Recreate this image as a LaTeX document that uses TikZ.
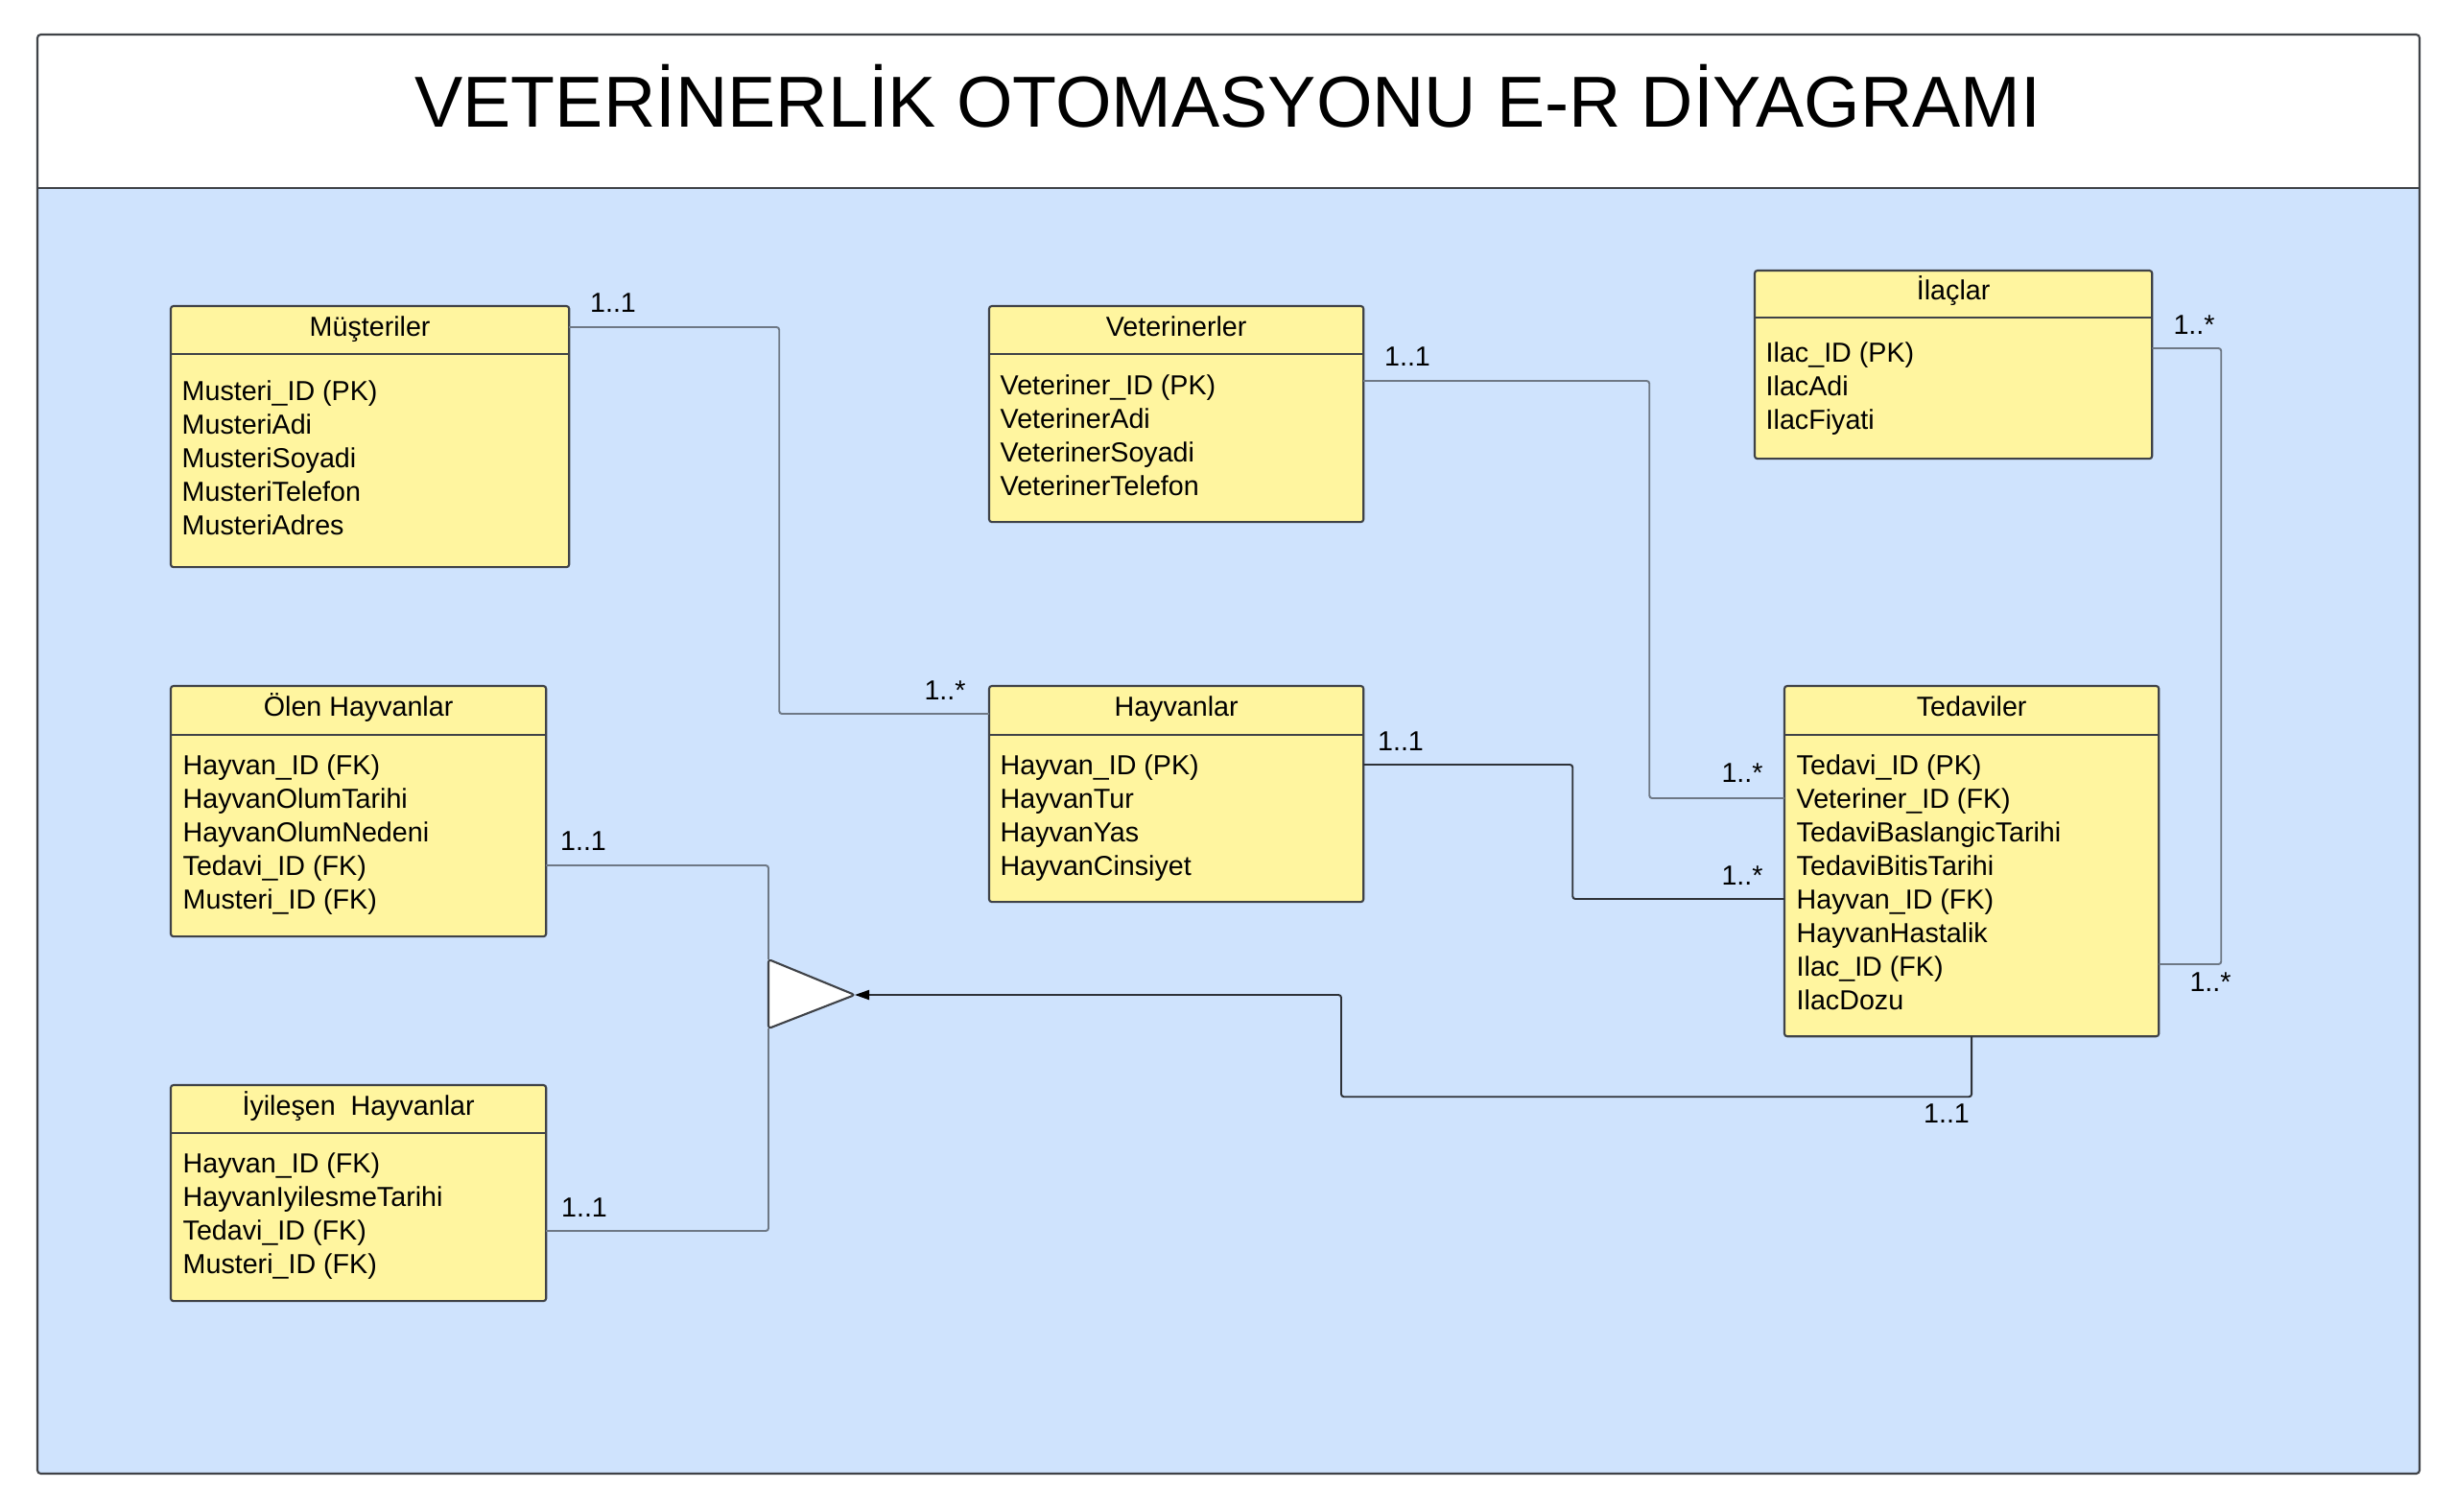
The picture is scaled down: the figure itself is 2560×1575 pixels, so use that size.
\documentclass[tikz,border=0pt]{standalone}
\usepackage{fontspec}
\setmainfont{Liberation Sans}
\usetikzlibrary{calc,arrows.meta}
\definecolor{bgblue}{HTML}{CFE3FD}
\definecolor{boxyellow}{HTML}{FFF59F}
\definecolor{edgec}{HTML}{3F4247}
\definecolor{connc}{HTML}{6E7885}
\definecolor{conndark}{HTML}{2E3238}
\begin{document}
\begin{tikzpicture}[x=0.01cm,y=-0.01cm,
  entity/.style={draw=edgec, line width=0.6pt, fill=boxyellow, rounded corners=0.8pt, inner sep=0, outer sep=0, anchor=north west},
  hdrline/.style={draw=edgec, line width=0.6pt},
  ttl/.style={font=\fontsize{8.15}{10}\selectfont, anchor=base, inner sep=0},
  attr/.style={font=\fontsize{8.15}{10}\selectfont, anchor=base west, inner sep=0},
  card/.style={font=\fontsize{8.15}{10}\selectfont, anchor=base, inner sep=0},
  conn/.style={draw=connc, line width=0.55pt, rounded corners=0.8pt},
  arrowtip/.style={-{Triangle[length=0.15cm,width=0.1cm,color=black]}},
]
\useasboundingbox (0,0) rectangle (2560,1575);
\fill[white] (0,0) rectangle (2560,1575);
% frame
\fill[bgblue] (39,196) rectangle (2522,1536);
\fill[white] (39,36) rectangle (2522,196);
\draw[edgec, line width=0.6pt] (39,196) -- (2522,196);
\draw[edgec, line width=0.6pt, rounded corners=1pt] (39,36) rectangle (2522,1536);
\node[font=\fontsize{21.4}{25}\selectfont, anchor=base, inner sep=0] (title) at (1280,132) {VETERİNERLİK OTOMASYONU E-R DİYAGRAMI};

% Müşteriler
\node[entity, minimum width=4.15cm, minimum height=2.72cm] (mus) at (178,319) {};
\draw[hdrline] ($(mus.north west)+(0,50)$) -- ($(mus.north east)+(0,50)$);
\node[ttl] (mus-t) at ($(mus.north)+(0,31)$) {Müşteriler};
\foreach \txt [count=\i from 0] in {Musteri\_ID (PK),MusteriAdi,MusteriSoyadi,MusteriTelefon,MusteriAdres}
  \node[attr] (mus-\i) at ($(mus.north west)+(11,98+35*\i)$) {\txt};

% Veterinerler
\node[entity, minimum width=3.9cm, minimum height=2.25cm] (vet) at (1031,319) {};
\draw[hdrline] ($(vet.north west)+(0,50)$) -- ($(vet.north east)+(0,50)$);
\node[ttl] (vet-t) at ($(vet.north)+(0,31)$) {Veterinerler};
\foreach \txt [count=\i from 0] in {Veteriner\_ID (PK),VeterinerAdi,VeterinerSoyadi,VeterinerTelefon}
  \node[attr] (vet-\i) at ($(vet.north west)+(11,92+35*\i)$) {\txt};

% İlaçlar
\node[entity, minimum width=4.14cm, minimum height=1.96cm] (ila) at (1829,282) {};
\draw[hdrline] ($(ila.north west)+(0,49)$) -- ($(ila.north east)+(0,49)$);
\node[ttl] (ila-t) at ($(ila.north)+(0,30)$) {İlaçlar};
\foreach \txt [count=\i from 0] in {Ilac\_ID (PK),IlacAdi,IlacFiyati}
  \node[attr] (ila-\i) at ($(ila.north west)+(11,95+35*\i)$) {\txt};

% Hayvanlar
\node[entity, minimum width=3.9cm, minimum height=2.25cm] (hay) at (1031,715) {};
\draw[hdrline] ($(hay.north west)+(0,51)$) -- ($(hay.north east)+(0,51)$);
\node[ttl] (hay-t) at ($(hay.north)+(0,31)$) {Hayvanlar};
\foreach \txt [count=\i from 0] in {Hayvan\_ID (PK),HayvanTur,HayvanYas,HayvanCinsiyet}
  \node[attr] (hay-\i) at ($(hay.north west)+(11,92+35*\i)$) {\txt};

% Tedaviler
\node[entity, minimum width=3.9cm, minimum height=3.65cm] (ted) at (1860,715) {};
\draw[hdrline] ($(ted.north west)+(0,51)$) -- ($(ted.north east)+(0,51)$);
\node[ttl] (ted-t) at ($(ted.north)+(0,31)$) {Tedaviler};
\foreach \txt [count=\i from 0] in {Tedavi\_ID (PK),Veteriner\_ID (FK),TedaviBaslangicTarihi,TedaviBitisTarihi,Hayvan\_ID (FK),HayvanHastalik,Ilac\_ID (FK),IlacDozu}
  \node[attr] (ted-\i) at ($(ted.north west)+(12,92+35*\i)$) {\txt};

% Ölen Hayvanlar
\node[entity, minimum width=3.91cm, minimum height=2.61cm] (olen) at (178,715) {};
\draw[hdrline] ($(olen.north west)+(0,51)$) -- ($(olen.north east)+(0,51)$);
\node[ttl] (olen-t) at ($(olen.north)+(0,31)$) {Ölen Hayvanlar};
\foreach \txt [count=\i from 0] in {Hayvan\_ID (FK),HayvanOlumTarihi,HayvanOlumNedeni,Tedavi\_ID (FK),Musteri\_ID (FK)}
  \node[attr] (olen-\i) at ($(olen.north west)+(12,92+35*\i)$) {\txt};

% İyileşen Hayvanlar
\node[entity, minimum width=3.91cm, minimum height=2.25cm] (iyi) at (178,1131) {};
\draw[hdrline] ($(iyi.north west)+(0,50)$) -- ($(iyi.north east)+(0,50)$);
\node[ttl] (iyi-t) at ($(iyi.north)+(0,31)$) {İyileşen\ \ Hayvanlar};
\foreach \txt [count=\i from 0] in {Hayvan\_ID (FK),HayvanIyilesmeTarihi,Tedavi\_ID (FK),Musteri\_ID (FK)}
  \node[attr] (iyi-\i) at ($(iyi.north west)+(12,91+35*\i)$) {\txt};

% triangle
\coordinate (tri-top) at (801,1000);
\coordinate (tri-bot) at (801,1072);
\coordinate (tri-apex) at (891,1037);

% connectors
\draw[conn] ($(mus.north east)+(0,22)$) -- ++(219,0) |- ($(hay.north west)+(0,29)$);
\draw[conn] ($(vet.north east)+(0,78)$) -- ++(298,0) |- ($(ted.north west)+(0,117)$);
\draw[conn, draw=conndark] ($(hay.north east)+(0,82)$) -- ++(218,0) |- ($(ted.north west)+(0,222)$);
\draw[conn] ($(ila.north east)+(0,81)$) -- ++(72,0) |- ($(ted.north east)+(0,290)$);
\draw[conn] ($(olen.north east)+(0,187)$) -| (tri-top);
\draw[conn] ($(iyi.north east)+(0,152)$) -| (tri-bot);
\draw[draw=edgec, fill=white, line width=0.6pt, rounded corners=0.8pt, line join=round] (tri-top) -- (tri-apex) -- (tri-bot) -- cycle;
\draw[conn, draw=conndark, arrowtip] (ted.south) -- ++(0,63) -| ($(tri-apex)+(507,0)$) -- (tri-apex);

% cardinalities
\node[card] (c1) at (639,325) {1..1};
\node[card] (c2) at (985,729) {1..*};
\node[card] (c3) at (1467,381) {1..1};
\node[card] (c4) at (1816,815) {1..*};
\node[card] (c5) at (1460,782) {1..1};
\node[card] (c6) at (1816,922) {1..*};
\node[card] (c7) at (2287,348) {1..*};
\node[card] (c8) at (2304,1033) {1..*};
\node[card] (c9) at (2029,1170) {1..1};
\node[card] (c10) at (608,886) {1..1};
\node[card] (c11) at (609,1268) {1..1};
\end{tikzpicture}
\end{document}
